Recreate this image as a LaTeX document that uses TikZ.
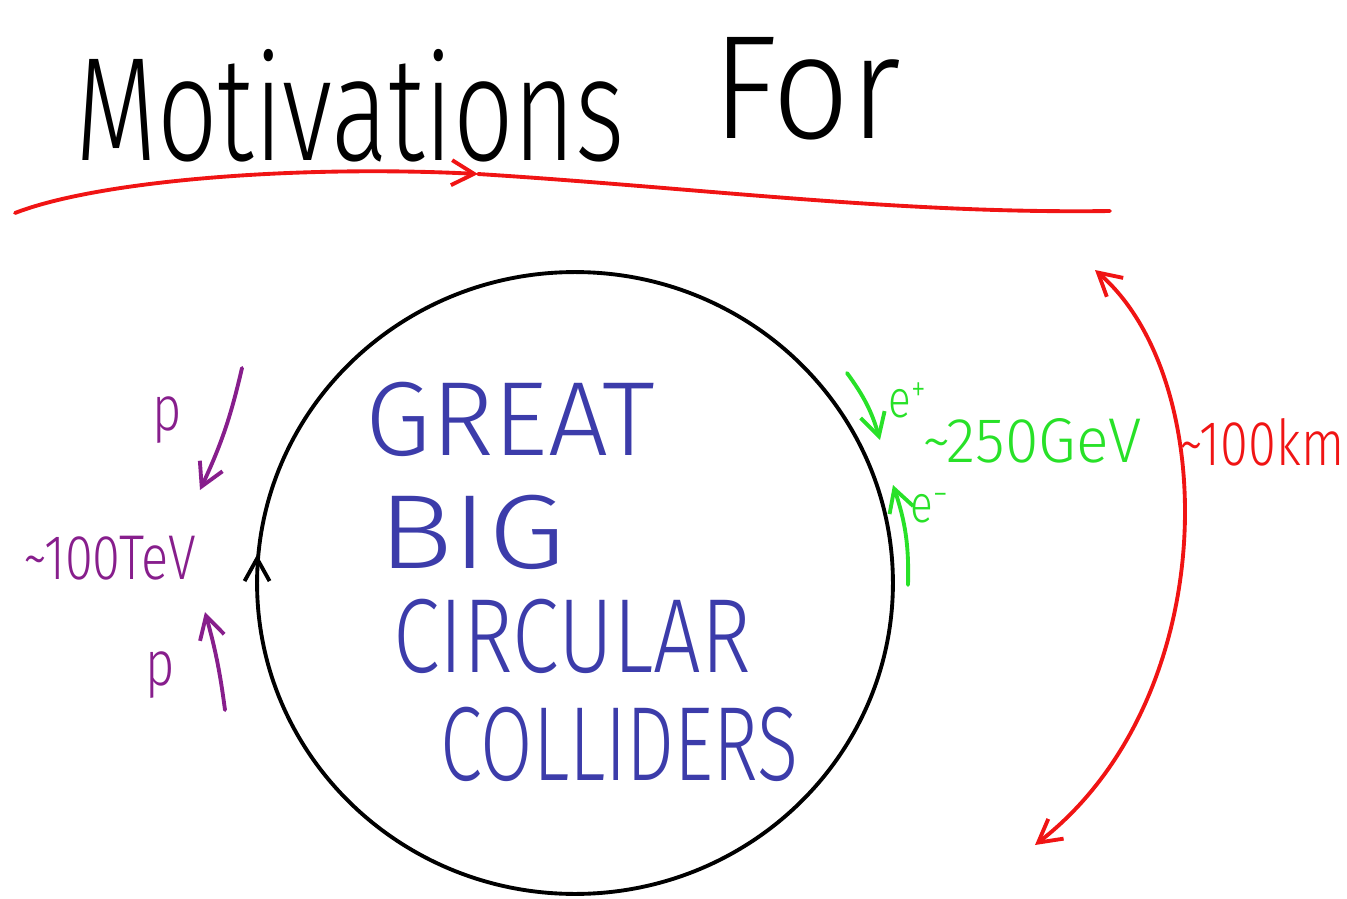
\documentclass[tikz,border=0pt]{standalone}
\usepackage{fontspec}
\setmainfont{Fira Sans}
\newfontfamily\handfont[FakeStretch=0.8, UprightFont=* Light]{Fira Sans}
\usetikzlibrary{arrows.meta, decorations.markings}

\definecolor{inkblue}{RGB}{60,60,170}
\definecolor{inkpurple}{RGB}{135,30,140}
\definecolor{inkgreen}{RGB}{40,225,40}
\definecolor{inkred}{RGB}{240,20,20}

\begin{document}
\begin{tikzpicture}[
  x=0.02cm, y=-0.02cm,
  ink/.style={line width=2.2pt, line cap=round, line join=round},
  barb/.style={-{Straight Barb[length=4.5mm, width=5mm]}},
  title/.style={font=\handfont\fontsize{84pt}{84pt}\selectfont, anchor=base west, inner sep=0pt},
  word/.style={font=\handfont\fontsize{60pt}{60pt}\selectfont, text=inkblue, anchor=base west,
    inner sep=0pt, text height=43pt, text depth=0pt},
  label/.style={font=\handfont\fontsize{36pt}{36pt}\selectfont, inner sep=0pt},
  small/.style={font=\handfont\fontsize{30pt}{30pt}\selectfont, text=inkgreen, inner sep=0pt},
]
  \useasboundingbox (0,0) rectangle (1347,899);

  % heading
  \node[title] (motiv) at (75,160) {\scalebox{0.9}[1]{Motivations}};
  \node[title] (for) at (712,138) {\scalebox{1.15}[1]{For}};
  \coordinate (ul1) at (15,213);
  \coordinate (ulmid) at (478,174);
  \coordinate (ul2) at (1110,211);
  \draw[ink, inkred, barb] (ul1) .. controls (100,180) and (300,165) .. (ulmid);
  \draw[ink, inkred] (ulmid) .. controls (700,188) and (900,214) .. (ul2);

  % the ring
  \draw[ink, postaction={decorate}, decoration={markings,
      mark=at position 0.5 with {\arrow{Straight Barb[length=4.5mm, width=5mm, reversed]}}}]
    (575,583) ellipse [x radius=6.36cm, y radius=6.22cm];
  \node[word] (great) at (365,455) {\scalebox{1.26}[1]{GREAT}};
  \node[word] (big) at (378,568) {\scalebox{1.48}[1]{BIG}};
  \node[word] (circ) at (393,672) {\scalebox{1.0}[1]{CIRCULAR}};
  \node[word] (coll) at (440,780) {\scalebox{0.9}[1]{COLLIDERS}};

  % proton beams
  \node[label, text=inkpurple] (p1) at (167,420) {p};
  \coordinate (pa1s) at (242,368);
  \coordinate (pa1e) at (200,490);
  \draw[ink, inkpurple, barb] (pa1s) to[bend left=6] (pa1e);
  \node[label, text=inkpurple] (tev) at (110,558) {\textasciitilde100TeV};
  \node[label, text=inkpurple] (p2) at (160,675) {p};
  \coordinate (pa2s) at (225,710);
  \coordinate (pa2e) at (205,612);
  \draw[ink, inkpurple, barb] (pa2s) to[bend right=4] (pa2e);

  % electron beams
  \coordinate (ea1s) at (847,373);
  \coordinate (ea1e) at (880,440);
  \draw[ink, inkgreen, barb] (ea1s) to[bend left=10] (ea1e);
  \node[small] (ep) at (908,400) {e\textsuperscript{+}};
  \node[label, text=inkgreen, text depth=0pt] (gev) at (1032,440) {\scalebox{1.2}[1]{\textasciitilde250GeV}};
  \coordinate (ea2s) at (908,585);
  \coordinate (ea2e) at (893,485);
  \draw[ink, inkgreen, barb] (ea2s) to[bend right=10] (ea2e);
  \node[small] (em) at (930,508) {e\textsuperscript{−}};

  % size of the ring
  \coordinate (rtop) at (1095,270);
  \coordinate (rbot) at (1035,845);
  \draw[ink, inkred, {Straight Barb[length=4.5mm, width=5mm]}-{Straight Barb[length=4.5mm, width=5mm]}]
    (rtop) .. controls (1222,380) and (1222,700) .. (rbot);
  \node[label, text=inkred] (km) at (1262,442) {\textasciitilde100km};
\end{tikzpicture}
\end{document}
